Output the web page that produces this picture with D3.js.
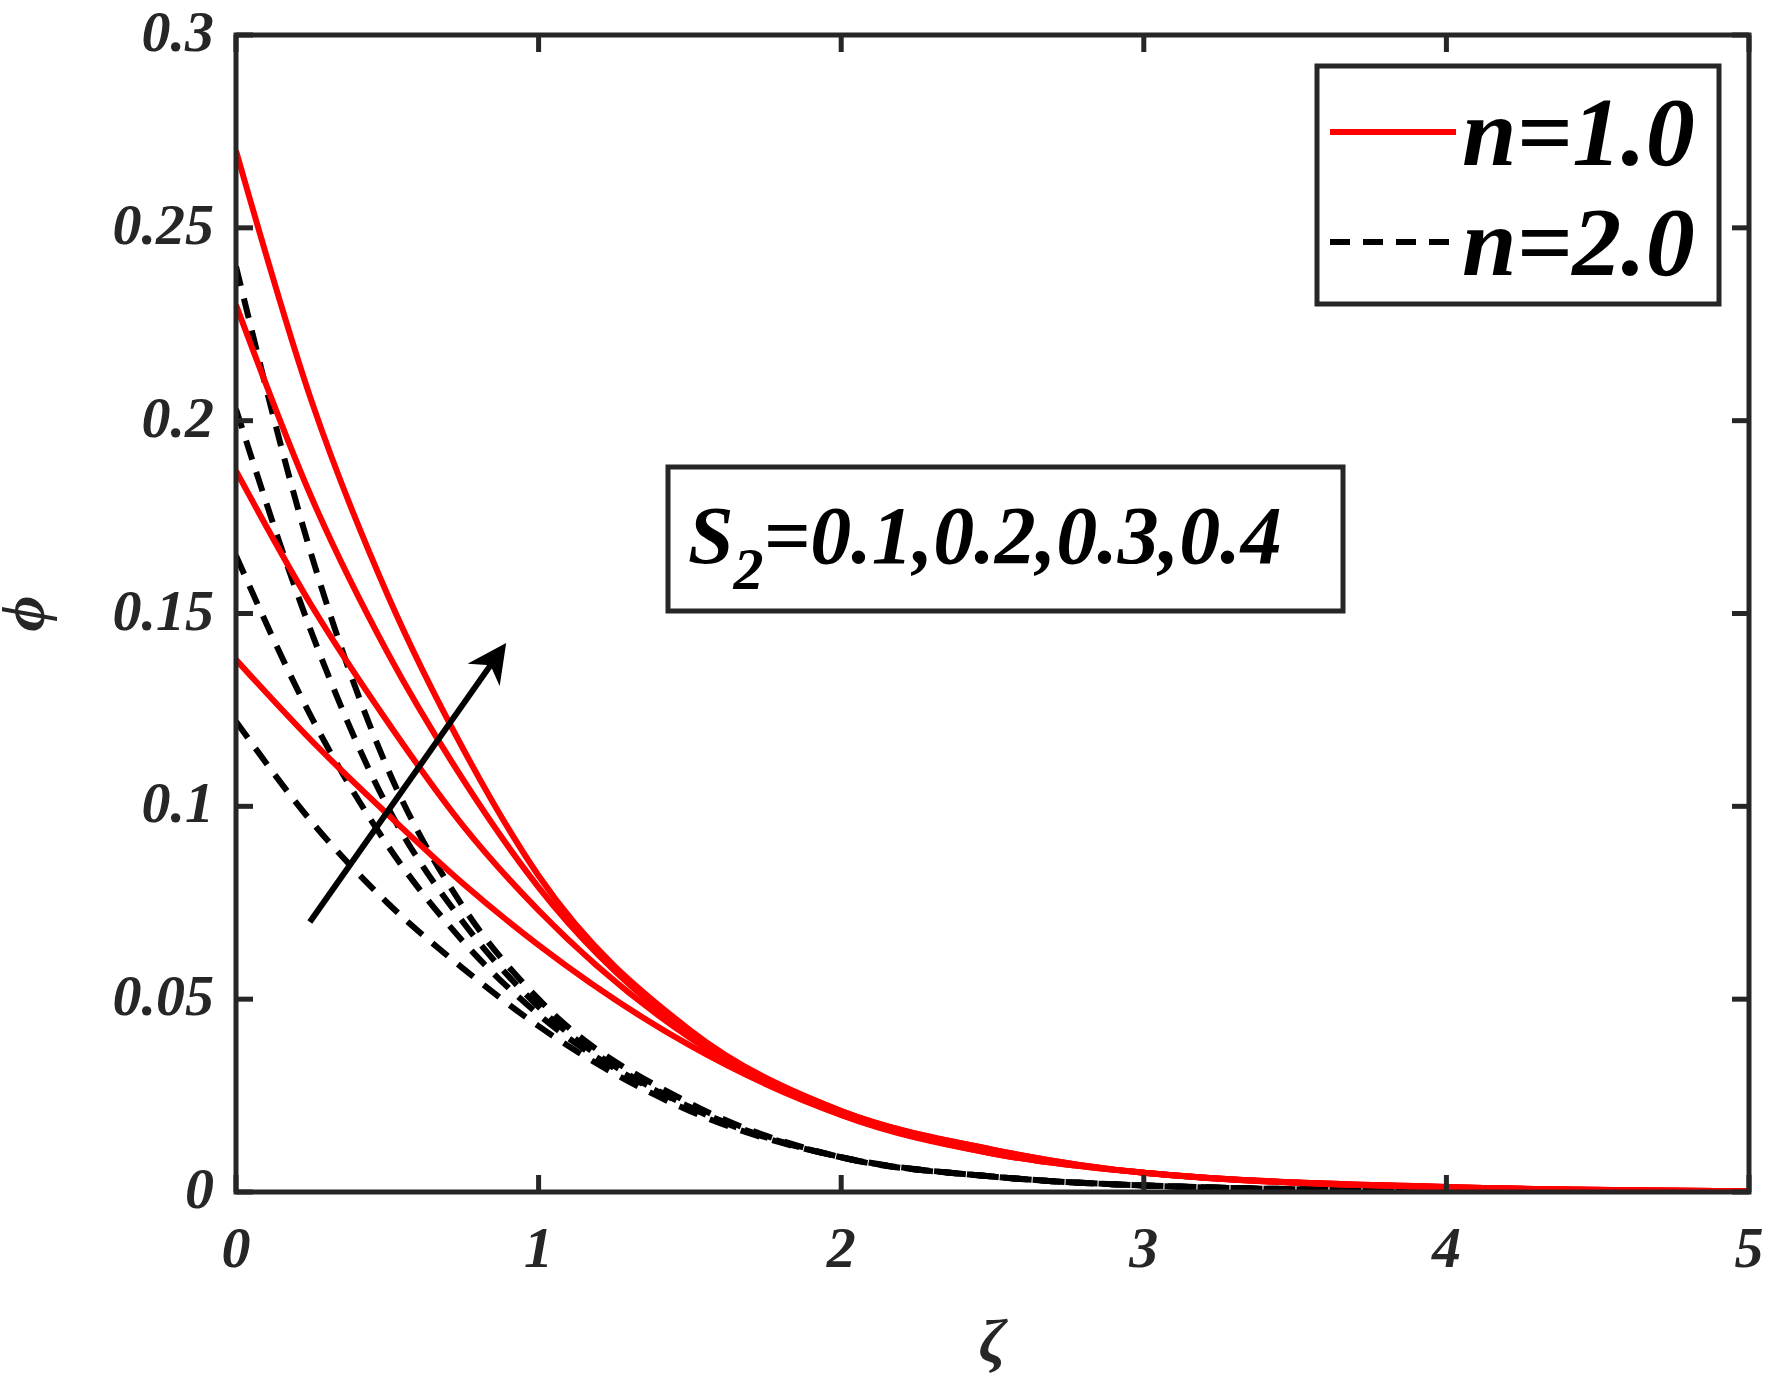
<!DOCTYPE html>
<html><head><meta charset="utf-8">
<script src="https://cdn.jsdelivr.net/npm/d3@7"></script>
<style>body{margin:0;background:#fff}</style>
</head><body>
<svg id="chart" width="1776" height="1390"></svg>
<script>
// sample positions along zeta
var zetaPts = [0, 0.25, 0.5, 0.75, 1, 1.5, 2, 2.5, 3, 4, 5];
// n = 1.0 (solid red), S2 = 0.1 .. 0.4
var redSeries = [
	[0.138, 0.117, 0.098, 0.080, 0.064, 0.038, 0.020, 0.010, 0.005, 0.0012, 0.0002],
	[0.187, 0.152, 0.122, 0.095, 0.073, 0.040, 0.020, 0.010, 0.005, 0.0012, 0.0002],
	[0.230, 0.180, 0.140, 0.107, 0.079, 0.041, 0.021, 0.011, 0.005, 0.0013, 0.0002],
	[0.270, 0.205, 0.155, 0.115, 0.082, 0.042, 0.021, 0.011, 0.005, 0.0013, 0.0002]
];
// n = 2.0 (dashed black)
var blackSeries = [
	[0.122, 0.096, 0.075, 0.058, 0.043, 0.021, 0.009, 0.004, 0.0017, 0.0003, 0],
	[0.165, 0.123, 0.090, 0.065, 0.046, 0.022, 0.009, 0.004, 0.0017, 0.0003, 0],
	[0.203, 0.145, 0.100, 0.070, 0.048, 0.022, 0.009, 0.004, 0.0017, 0.0003, 0],
	[0.240, 0.165, 0.110, 0.074, 0.050, 0.023, 0.009, 0.004, 0.0017, 0.0003, 0]
];
var xTicks = [0, 1, 2, 3, 4, 5];
var yTicks = [0, 0.05, 0.1, 0.15, 0.2, 0.25, 0.3];
var yTickLabels = ["0", "0.05", "0.1", "0.15", "0.2", "0.25", "0.3"];
var arrowFrom = [0.244, 0.070], arrowTo = [0.878, 0.1407];

var L = 236, R = 1749, T = 35, B = 1192;
var svg = d3.select("#chart");
var x = d3.scaleLinear().domain([0, 5]).range([L, R]);
var y = d3.scaleLinear().domain([0, 0.3]).range([B, T]);
var font = "'Liberation Serif', 'Times New Roman', serif";
var axisCol = "#262626";

var defs = svg.append("defs");
defs.append("clipPath").attr("id", "clip").append("rect")
	.attr("x", L).attr("y", T).attr("width", R - L).attr("height", B - T);
defs.append("marker").attr("id", "arr").attr("viewBox", "0 0 10 10")
	.attr("refX", 8).attr("refY", 5).attr("markerWidth", 6.5).attr("markerHeight", 6.5)
	.attr("orient", "auto").append("path").attr("d", "M0,0 L10,5 L0,10 L3,5 z").attr("fill", "#000");

var line = d3.line().curve(d3.curveMonotoneX)
	.x(function(d, i){ return x(zetaPts[i]); })
	.y(function(d){ return y(d); });

var g = svg.append("g").attr("clip-path", "url(#clip)");
blackSeries.forEach(function(s){
	g.append("path").attr("d", line(s)).attr("fill", "none")
		.attr("stroke", "#000").attr("stroke-width", 6).attr("stroke-dasharray", "20,13");
});
redSeries.forEach(function(s){
	g.append("path").attr("d", line(s)).attr("fill", "none")
		.attr("stroke", "#ff0000").attr("stroke-width", 6);
});

// box + ticks on all sides
svg.append("rect").attr("x", L).attr("y", T).attr("width", R - L).attr("height", B - T)
	.attr("fill", "none").attr("stroke", axisCol).attr("stroke-width", 5);
var tl = 17;
function label(sel, size){
	return sel.attr("font-family", font).attr("font-weight", "bold").attr("font-style", "italic")
		.attr("font-size", size).attr("fill", axisCol);
}
xTicks.forEach(function(t){
	svg.append("line").attr("x1", x(t)).attr("x2", x(t)).attr("y1", B).attr("y2", B - tl).attr("stroke", axisCol).attr("stroke-width", 5);
	svg.append("line").attr("x1", x(t)).attr("x2", x(t)).attr("y1", T).attr("y2", T + tl).attr("stroke", axisCol).attr("stroke-width", 5);
	label(svg.append("text"), 58).attr("x", x(t)).attr("y", B + 75).attr("text-anchor", "middle").text(t);
});
yTicks.forEach(function(t, i){
	svg.append("line").attr("x1", L).attr("x2", L + tl).attr("y1", y(t)).attr("y2", y(t)).attr("stroke", axisCol).attr("stroke-width", 5);
	svg.append("line").attr("x1", R).attr("x2", R - tl).attr("y1", y(t)).attr("y2", y(t)).attr("stroke", axisCol).attr("stroke-width", 5);
	label(svg.append("text"), 58).attr("x", L - 22).attr("y", y(t) + 16).attr("text-anchor", "end").text(yTickLabels[i]);
});

// axis titles
label(svg.append("text"), 62).attr("x", (L + R) / 2).attr("y", 1362).attr("text-anchor", "middle").text("ζ");
label(svg.append("text"), 62).attr("transform", "translate(44," + y(0.15) + ") rotate(-90)").attr("text-anchor", "middle").text("ϕ");

// arrow
svg.append("line").attr("x1", x(arrowFrom[0])).attr("y1", y(arrowFrom[1]))
	.attr("x2", x(arrowTo[0])).attr("y2", y(arrowTo[1]))
	.attr("stroke", "#000").attr("stroke-width", 6).attr("marker-end", "url(#arr)");

// annotation box
svg.append("rect").attr("x", 668).attr("y", 467).attr("width", 675).attr("height", 144)
	.attr("fill", "#fff").attr("stroke", axisCol).attr("stroke-width", 5);
var ann = label(svg.append("text"), 82).attr("x", 688).attr("y", 563).attr("fill", "#000");
ann.append("tspan").text("S");
ann.append("tspan").attr("dy", 26).attr("font-size", 60).text("2");
ann.append("tspan").attr("dy", -26).text("=0.1,0.2,0.3,0.4");

// legend
svg.append("rect").attr("x", 1317).attr("y", 66).attr("width", 402).attr("height", 238)
	.attr("fill", "#fff").attr("stroke", axisCol).attr("stroke-width", 5);
var legend = [{lab: "n=1.0", col: "#ff0000", dash: null}, {lab: "n=2.0", col: "#000", dash: "20,13"}];
legend.forEach(function(d, i){
	var ly = 132 + i * 110;
	svg.append("line").attr("x1", 1330).attr("x2", 1456).attr("y1", ly).attr("y2", ly)
		.attr("stroke", d.col).attr("stroke-width", 6).attr("stroke-dasharray", d.dash);
	label(svg.append("text"), 98).attr("x", 1462).attr("y", ly + 33).attr("fill", "#000").text(d.lab);
});
</script>
</body></html>
